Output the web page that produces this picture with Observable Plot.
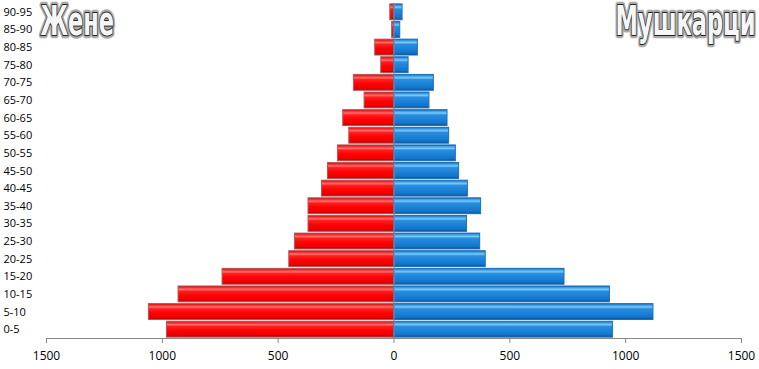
<!DOCTYPE html>
<html>
<head>
<meta charset="utf-8">
<script src="https://cdn.jsdelivr.net/npm/d3@7"></script>
<script src="https://cdn.jsdelivr.net/npm/@observablehq/plot@0.6"></script>
<style>
  html, body { margin: 0; padding: 0; background: #fff; }
  #chart { width: 759px; height: 369px; }
</style>
</head>
<body>
<div id="chart"></div>
<script>
const ages = ["0-5","5-10","10-15","15-20","20-25","25-30","30-35","35-40","40-45","45-50","50-55","55-60","60-65","65-70","70-75","75-80","80-85","85-90","90-95"];
const women = [980,1058,930,740,452,427,369,369,311,285,242,193,219,127,173,55,81,8,16];
const men = [945,1120,932,736,396,372,315,376,319,281,267,238,231,153,172,63,103,27,37];
const xTicks = [-1500,-1000,-500,0,500,1000,1500];
const titleWomen = "Жене";
const titleMen = "Мушкарци";

const rows = [];
ages.forEach((a, i) => {
  rows.push({age: a, value: -women[i], sex: "f"});
  rows.push({age: a, value: men[i], sex: "m"});
});

const titleFont = "'DejaVu Sans Condensed', 'DejaVu Sans', sans-serif";
const titleStyle = {lineAnchor: "top", fontSize: 25, fontWeight: "bold", fontFamily: titleFont, text: d => d};

const plot = Plot.plot({
  width: 759,
  height: 369,
  marginLeft: 46,
  marginRight: 18,
  marginTop: 3,
  marginBottom: 31,
  style: {fontFamily: "'Open Sans', 'Noto Sans', sans-serif", fontSize: "11px", color: "#000", background: "#fff"},
  x: {domain: [-1500, 1500], ticks: xTicks, tickFormat: d => String(Math.abs(d))},
  y: {domain: ages.slice().reverse(), paddingInner: 0.1, paddingOuter: 0.05, round: false, axis: null},
  marks: [
    Plot.barX(rows.filter(d => d.sex === "f"), {x: "value", y: "age", fill: "url(#gradRed)", stroke: "#b05858", strokeWidth: 1}),
    Plot.barX(rows.filter(d => d.sex === "m"), {x: "value", y: "age", fill: "url(#gradBlue)", stroke: "#1f6fb8", strokeWidth: 1}),
    Plot.ruleX([0], {stroke: "#888", strokeWidth: 1}),
    Plot.frame({anchor: "bottom", stroke: "#888"}),
    Plot.axisX({ticks: xTicks, tickFormat: d => String(Math.abs(d)), tickSize: 5, tickPadding: 8, stroke: "#888", fontSize: 12, label: null}),
    Plot.text(ages, {y: d => d, text: d => d, frameAnchor: "left", textAnchor: "start", dx: -43, fontSize: 11}),
    Plot.text([titleWomen], {...titleStyle, frameAnchor: "top-left", dx: -6, dy: 3, textAnchor: "start", fill: "#fff", stroke: "#aaa", strokeWidth: 4, className: "ttl"}),
    Plot.text([titleWomen], {...titleStyle, frameAnchor: "top-left", dx: -6, dy: 3, textAnchor: "start", fill: "#f6f6f6", stroke: "#222", strokeWidth: 1.2, className: "ttl"}),
    Plot.text([titleMen], {...titleStyle, frameAnchor: "top-right", dx: 14, dy: 3, textAnchor: "end", fill: "#fff", stroke: "#aaa", strokeWidth: 4, className: "ttl"}),
    Plot.text([titleMen], {...titleStyle, frameAnchor: "top-right", dx: 14, dy: 3, textAnchor: "end", fill: "#f6f6f6", stroke: "#222", strokeWidth: 1.2, className: "ttl"})
  ]
});

// stretch the titles vertically (condensed display-font look)
plot.querySelectorAll("g.ttl text, .ttl text").forEach(t => {
  const tr = t.getAttribute("transform") || "";
  if (!/scale/.test(tr)) t.setAttribute("transform", tr + " scale(1,1.6)");
});

// gradients for the bevelled bar look
const ns = "http://www.w3.org/2000/svg";
const defs = document.createElementNS(ns, "defs");
function grad(id, stops) {
  const g = document.createElementNS(ns, "linearGradient");
  g.setAttribute("id", id);
  g.setAttribute("x1", "0"); g.setAttribute("y1", "0");
  g.setAttribute("x2", "0"); g.setAttribute("y2", "1");
  stops.forEach(([o, c]) => {
    const s = document.createElementNS(ns, "stop");
    s.setAttribute("offset", o);
    s.setAttribute("stop-color", c);
    g.appendChild(s);
  });
  defs.appendChild(g);
}
grad("gradRed", [["0%", "#c80000"], ["10%", "#ff2a2a"], ["22%", "#ff7070"], ["32%", "#ff2020"], ["60%", "#ff0000"], ["86%", "#f00000"], ["100%", "#a80000"]]);
grad("gradBlue", [["0%", "#0e62b0"], ["10%", "#3aa0ea"], ["22%", "#7cc8f6"], ["32%", "#2a8ee0"], ["60%", "#1a82d8"], ["86%", "#1274c8"], ["100%", "#0a4f95"]]);
plot.insertBefore(defs, plot.firstChild);

document.getElementById("chart").appendChild(plot);
</script>
</body>
</html>
